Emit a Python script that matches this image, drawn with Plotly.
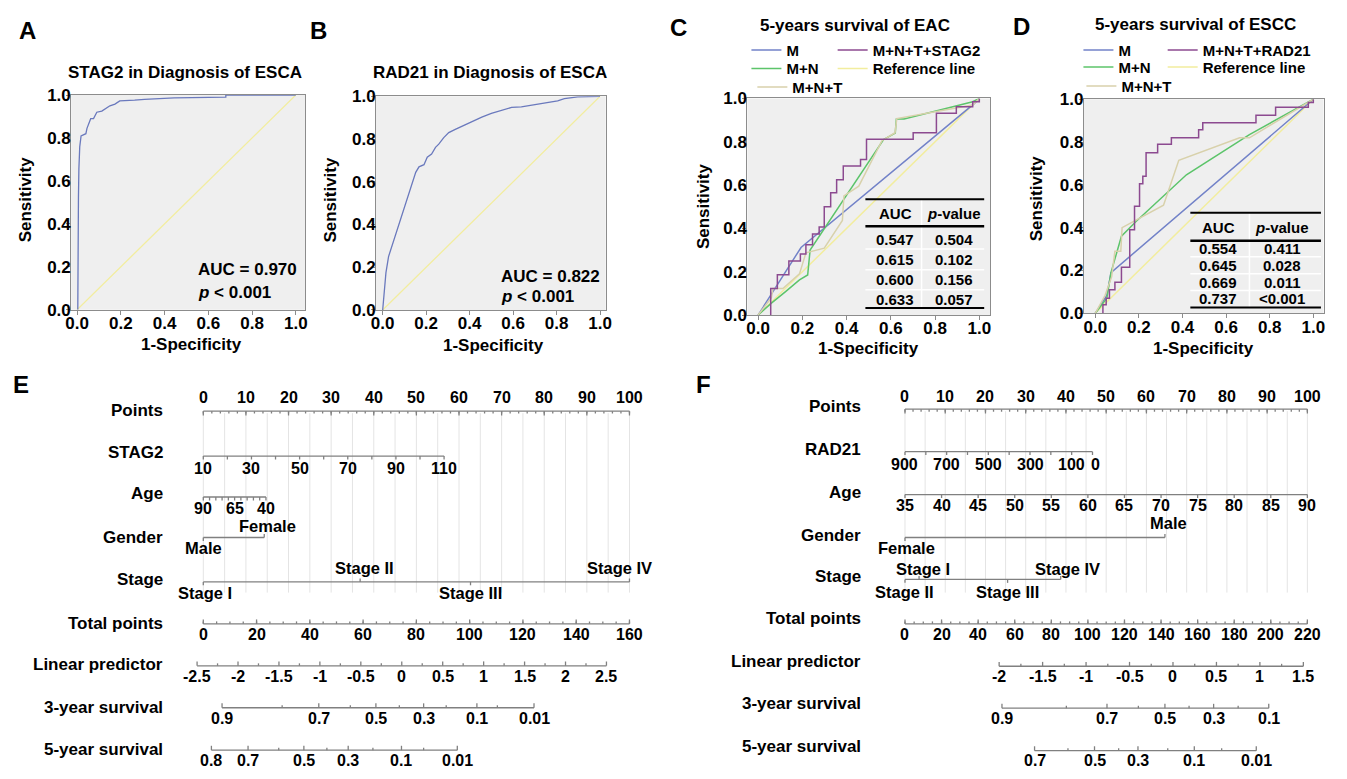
import plotly.graph_objects as go

W, H = 1347, 779
FONT = "Liberation Sans, Arial, Helvetica, sans-serif"
NUMFONT = "Liberation Sans, Arial, Helvetica, sans-serif"

# ======================= DATA =======================
a_fpr = [0.003, 0.003, 0.006, 0.008, 0.012, 0.018, 0.028, 0.040, 0.045, 0.056, 0.062, 0.075,
         0.083, 0.090, 0.113, 0.128, 0.150, 0.173, 0.195, 0.263, 0.308, 0.444, 0.680, 0.680, 1.0]
a_tpr = [0.0, 0.445, 0.52, 0.656, 0.76, 0.81, 0.815, 0.82, 0.845, 0.88, 0.89, 0.89,
         0.905, 0.92, 0.925, 0.935, 0.95, 0.958, 0.973, 0.976, 0.98, 0.987, 0.99, 1.0, 1.0]
a_auc, a_p = "0.970", "0.001"

b_fpr = [0, 0.008, 0.015, 0.027, 0.046, 0.061, 0.084, 0.106, 0.125, 0.140, 0.152, 0.167, 0.190,
         0.205, 0.225, 0.243, 0.258, 0.281, 0.304, 0.334, 0.365, 0.395, 0.426, 0.456, 0.500,
         0.547, 0.593, 0.638, 0.684, 0.745, 0.805, 0.836, 0.897, 1.0]
b_tpr = [0, 0.099, 0.175, 0.25, 0.31, 0.36, 0.43, 0.50, 0.556, 0.60, 0.644, 0.67, 0.68,
         0.715, 0.73, 0.761, 0.776, 0.807, 0.83, 0.845, 0.86, 0.875, 0.89, 0.903, 0.92,
         0.936, 0.948, 0.951, 0.959, 0.967, 0.979, 0.989, 0.997, 1.0]
b_auc, b_p = "0.822", "0.001"

c_m_fpr = [0, 0.194, 0.978, 1.0]
c_m_tpr = [0, 0.312, 0.977, 1.0]
c_mn_fpr = [0, 0.06, 0.12, 0.187, 0.224, 0.235, 0.567, 0.62, 0.625, 0.66, 0.97, 1.0]
c_mn_tpr = [0, 0.055, 0.105, 0.162, 0.185, 0.30, 0.81, 0.84, 0.905, 0.905, 0.985, 1.0]
c_mnt_fpr = [0, 0.06, 0.067, 0.112, 0.187, 0.216, 0.299, 0.381, 0.388, 0.455, 0.56, 0.619, 0.627, 0.806, 0.97, 1.0]
c_mnt_tpr = [0, 0.08, 0.122, 0.122, 0.19, 0.287, 0.309, 0.437, 0.55, 0.595, 0.805, 0.842, 0.907, 0.94, 0.97, 1.0]
c_full_fpr = [0.057, 0.087, 0.139, 0.191, 0.216, 0.246, 0.276, 0.299, 0.328, 0.355, 0.385, 0.463,
              0.49, 0.701, 0.806, 0.896, 0.97, 1.0, 1.0]
c_full_tpr = [0, 0.122, 0.186, 0.249, 0.282, 0.324, 0.374, 0.407, 0.50, 0.565, 0.625, 0.688,
              0.718, 0.812, 0.842, 0.932, 0.962, 0.985, 1.0]
c_auc = ["0.547", "0.615", "0.600", "0.633"]
c_pval = ["0.504", "0.102", "0.156", "0.057"]

d_m_fpr = [0, 0.053, 0.072, 1.0]
d_m_tpr = [0, 0.084, 0.19, 1.0]
d_mn_fpr = [0, 0.053, 0.072, 0.09, 0.12, 0.188, 0.418, 0.707, 1.0]
d_mn_tpr = [0, 0.07, 0.19, 0.25, 0.36, 0.43, 0.647, 0.835, 1.0]
d_mnt_fpr = [0, 0.045, 0.075, 0.09, 0.117, 0.123, 0.313, 0.383, 0.662, 0.707, 1.0]
d_mnt_tpr = [0, 0.084, 0.17, 0.29, 0.29, 0.40, 0.505, 0.715, 0.82, 0.82, 1.0]
d_full_fpr = [0.035, 0.05, 0.065, 0.09, 0.12, 0.158, 0.18, 0.203, 0.218, 0.233, 0.286, 0.349,
              0.474, 0.493, 0.737, 0.827, 0.977, 1.0, 1.0]
d_full_tpr = [0, 0.04, 0.07, 0.11, 0.145, 0.215, 0.39, 0.5, 0.605, 0.64, 0.75, 0.79,
              0.82, 0.857, 0.89, 0.925, 0.962, 0.985, 1.0]
d_auc = ["0.554", "0.645", "0.669", "0.737"]
d_pval = ["0.411", "0.028", "0.011", "<0.001"]

e_points_labels = [0, 10, 20, 30, 40, 50, 60, 70, 80, 90, 100]
e_stag2_labels = [10, 30, 50, 70, 90, 110]
e_stag2_vals = (10, 110)
e_stag2_pts = (0.0, 56.5)
e_age_labels = [90, 65, 40]
e_age_vals = (90, 40)
e_age_pts = (0.0, 14.7)
e_gender_names = ["Male", "Female"]
e_gender_pts = [0.0, 14.3]
e_stage_names = ["Stage I", "Stage II", "Stage III", "Stage IV"]
e_stage_pts = [0.0, 36.8, 62.7, 100.0]
e_total_labels = [0, 20, 40, 60, 80, 100, 120, 140, 160]
e_total_vals = (0, 160)
e_lp_labels = [-2.5, -2, -1.5, -1, -0.5, 0, 0.5, 1, 1.5, 2, 2.5]
e_lp_vals = (-2.5, 2.5)
e_lp_pts = (-1.46, 94.6)
e_s3_labels = ["0.9", "0.7", "0.5", "0.3", "0.1", "0.01"]
e_s3_pts = [4.4, 27.1, 40.5, 51.7, 64.2, 77.6]
e_s3_minor_vals = [0.8, 0.6, 0.4, 0.2, 0.05]
e_s3_minor_pts = [18.5, 34.5, 46.0, 57.0, 69.0]
e_s5_labels = ["0.8", "0.7", "0.5", "0.3", "0.1", "0.01"]
e_s5_pts = [1.9, 10.5, 23.6, 34.0, 46.5, 59.6]
e_s5_minor_vals = [0.6, 0.4, 0.2, 0.05]
e_s5_minor_pts = [17.7, 29.0, 39.8, 51.7]

f_points_labels = [0, 10, 20, 30, 40, 50, 60, 70, 80, 90, 100]
f_rad21_labels = [900, 700, 500, 300, 100, 0]
f_rad21_vals = (900, 0)
f_rad21_pts = (0.0, 46.6)
f_age_labels = [35, 40, 45, 50, 55, 60, 65, 70, 75, 80, 85, 90]
f_age_vals = (35, 90)
f_age_pts = (0.0, 100.0)
f_gender_names = ["Female", "Male"]
f_gender_pts = [0.0, 64.6]
f_stage_names = ["Stage II", "Stage I", "Stage III", "Stage IV"]
f_stage_pts = [0.0, 3.5, 25.5, 38.7]
f_total_labels = [0, 20, 40, 60, 80, 100, 120, 140, 160, 180, 200, 220]
f_total_vals = (0, 220)
f_lp_labels = [-2, -1.5, -1, -0.5, 0, 0.5, 1, 1.5]
f_lp_vals = (-2, 1.5)
f_lp_pts = (23.4, 99.0)
f_s3_labels = ["0.9", "0.7", "0.5", "0.3", "0.1"]
f_s3_pts = [24.1, 50.2, 64.6, 76.7, 90.4]
f_s3_minor_vals = [0.8, 0.6, 0.4, 0.2]
f_s3_minor_pts = [40.1, 58.0, 70.6, 82.8]
f_s5_labels = ["0.7", "0.5", "0.3", "0.1", "0.01"]
f_s5_pts = [32.2, 47.1, 57.9, 71.9, 87.3]
f_s5_minor_vals = [0.6, 0.4, 0.2, 0.05]
f_s5_minor_pts = [40.5, 53.1, 65.3, 78.7]

# ======================= STYLE =======================
ROC_BLUE = "#6a79bd"
BLUE = "#7282c8"
GREEN = "#5cc46a"
BEIGE = "#d8d1ab"
PURPLE = "#8c4a90"
YELLOW = "#f2ed9e"
PANEL_BG = "#efefef"
AXIS_GREY = "#8c8c8c"
NOMO_GREY = "#808080"
GRID = "#e4e4e4"

# the page shows the plot 8px in from the top-left corner of the photo;
# layout positions below are photo pixels, converted to plot pixels here
OFF = 8.0


def pxx(X):
    return (X - OFF) / W


def pxy(Y):
    return 1 - (Y - OFF) / H


fig = go.Figure()
annotations = []
shapes = []


def ann(text, x, y, xref="paper", yref="paper", size=17, family=FONT, xanchor="center",
        yanchor="middle", textangle=0, xshift=0, yshift=0):
    annotations.append(dict(text=text, x=x, y=y, xref=xref, yref=yref, showarrow=False,
                            xanchor=xanchor, yanchor=yanchor, textangle=textangle,
                            xshift=xshift, yshift=yshift,
                            font=dict(family=family, size=size, color="black")))


panels = [
    dict(n="", left=65.7, right=301.7, top=88.0, bottom=308.0, x0=71.7, x1=292.3),
    dict(n="2", left=373.3, right=605.0, top=89.3, bottom=308.3, x0=380.0, x1=599.3),
    dict(n="3", left=748.0, right=993.0, top=91.5, bottom=313.5, x0=758.8, x1=982.0),
    dict(n="4", left=1087.5, right=1329.3, top=92.3, bottom=311.7, x0=1099.0, x1=1319.0),
]
tickfont = dict(family=FONT, size=17, color="black", weight="bold")
for p in panels:
    n = p["n"]
    span = p["x1"] - p["x0"]
    fig.update_layout(**{
        "xaxis" + n: dict(domain=[pxx(p["left"]), pxx(p["right"])],
                          range=[(p["left"] - p["x0"]) / span, (p["right"] - p["x0"]) / span],
                          anchor="y" + n, showgrid=False, zeroline=False, showline=True,
                          mirror=True, linecolor=AXIS_GREY, linewidth=1, ticks="outside",
                          ticklen=4, tickcolor=AXIS_GREY, tick0=0, dtick=0.2,
                          tickformat=".1f", tickfont=tickfont, fixedrange=True,
                          ticklabelstandoff=-6),
        "yaxis" + n: dict(domain=[pxy(p["bottom"]), pxy(p["top"])], range=[0, 1],
                          anchor="x" + n, showgrid=False, zeroline=False, showline=True,
                          mirror=True, linecolor=AXIS_GREY, linewidth=1, ticks="outside",
                          ticklen=4, tickcolor=AXIS_GREY, tick0=0, dtick=0.2,
                          tickformat=".1f", tickfont=tickfont, fixedrange=True,
                          ticklabelstandoff=-8),
    })
    xr = "x" + n if n else "x"
    yr = "y" + n if n else "y"
    shapes.append(dict(type="rect", xref=xr + " domain", yref=yr + " domain", x0=0, x1=1,
                       y0=0, y1=1, fillcolor=PANEL_BG, line=dict(width=0), layer="below"))

diag = [0, 1]
fig.add_trace(go.Scatter(x=diag, y=diag, mode="lines", line=dict(color=YELLOW, width=1.3),
                         xaxis="x", yaxis="y", showlegend=False, hoverinfo="skip"))
fig.add_trace(go.Scatter(x=a_fpr, y=a_tpr, mode="lines", line=dict(color=ROC_BLUE, width=1.3),
                         xaxis="x", yaxis="y", showlegend=False, cliponaxis=False))
fig.add_trace(go.Scatter(x=diag, y=diag, mode="lines", line=dict(color=YELLOW, width=1.3),
                         xaxis="x2", yaxis="y2", showlegend=False, hoverinfo="skip"))
fig.add_trace(go.Scatter(x=b_fpr, y=b_tpr, mode="lines", line=dict(color=ROC_BLUE, width=1.3),
                         xaxis="x2", yaxis="y2", showlegend=False, cliponaxis=False))

for n, curves, legs in [
    ("3", [("Reference line", diag, diag, YELLOW, "linear"),
           ("M", c_m_fpr, c_m_tpr, BLUE, "linear"),
           ("M+N", c_mn_fpr, c_mn_tpr, GREEN, "linear"),
           ("M+N+T", c_mnt_fpr, c_mnt_tpr, BEIGE, "linear"),
           ("M+N+T+STAG2", c_full_fpr, c_full_tpr, PURPLE, "vh")],
     ["legend5", "legend", "legend2", "legend3", "legend4"]),
    ("4", [("Reference line", diag, diag, YELLOW, "linear"),
           ("M", d_m_fpr, d_m_tpr, BLUE, "linear"),
           ("M+N", d_mn_fpr, d_mn_tpr, GREEN, "linear"),
           ("M+N+T", d_mnt_fpr, d_mnt_tpr, BEIGE, "linear"),
           ("M+N+T+RAD21", d_full_fpr, d_full_tpr, PURPLE, "vh")],
     ["legend10", "legend6", "legend7", "legend8", "legend9"]),
]:
    for (name, xs, ys, col, shp), lg in zip(curves, legs):
        fig.add_trace(go.Scatter(x=xs, y=ys, mode="lines", name=name,
                                 line=dict(color=col, width=1.5, shape=shp),
                                 xaxis="x" + n, yaxis="y" + n, legend=lg, cliponaxis=False))

leg_pos = {
    "legend": (747, 42), "legend2": (747, 61), "legend3": (753, 80),
    "legend4": (834, 42), "legend5": (834, 61),
    "legend6": (1082, 42), "legend7": (1082, 59.5), "legend8": (1085, 79),
    "legend9": (1167, 42), "legend10": (1167, 59.5),
}
for k, (lx, ly) in leg_pos.items():
    fig.update_layout(**{k: dict(x=pxx(lx), y=pxy(ly), xanchor="left", yanchor="middle",
                                 bgcolor="rgba(0,0,0,0)", borderwidth=0, itemwidth=30,
                                 font=dict(family=FONT, size=15, color="black", weight="bold"),
                                 itemclick=False, itemdoubleclick=False)})

for t, x, y in [("STAG2 in Diagnosis of ESCA", 180.5, 65), ("RAD21 in Diagnosis of ESCA", 488, 65),
                ("5-years survival of EAC", 857, 17), ("5-years survival of ESCC", 1200, 16)]:
    ann("<b>%s</b>" % t, pxx(x), pxy(y), size=17)
for t, x, y in [("A", 21.7, 21.7), ("B", 315, 21.7), ("C", 678, 19), ("D", 1025, 18),
                ("E", 15, 385), ("F", 704, 385)]:
    ann("<b>%s</b>" % t, pxx(x), pxy(y), size=24)
for x, y in [(20, 195), (327, 195), (703, 202), (1040, 194)]:
    ann("<b>Sensitivity</b>", pxx(x), pxy(y), size=17, textangle=-90)
for x, y in [(186.7, 343.3), (491.7, 345), (870, 347.5), (1208, 347.5)]:
    ann("<b>1-Specificity</b>", pxx(x), pxy(y), size=17)

ann("<b>AUC = %s</b>" % a_auc, 0.545, 0.188, "x", "y", size=17, xanchor="left")
ann("<b><i>p</i> &lt; %s</b>" % a_p, 0.545, 0.078, "x", "y", size=17, xanchor="left")
ann("<b>AUC = %s</b>" % b_auc, 0.537, 0.157, "x2", "y2", size=17, xanchor="left")
ann("<b><i>p</i> &lt; %s</b>" % b_p, 0.537, 0.065, "x2", "y2", size=17, xanchor="left")


def table(n, x0, x1, xsep, top, head_y, head_line, row_ys, seps, bottom, col1, col2, aucs, pvs):
    xr, yr = "x" + n, "y" + n
    for s in seps:
        shapes.append(dict(type="line", xref=xr, yref=yr, x0=x0, x1=x1, y0=s, y1=s,
                           line=dict(color="white", width=1.5)))
    shapes.append(dict(type="line", xref=xr, yref=yr, x0=xsep, x1=xsep, y0=bottom, y1=top,
                       line=dict(color="white", width=1.5)))
    for yy, w in [(top, 2), (head_line, 2.4), (bottom, 2)]:
        shapes.append(dict(type="line", xref=xr, yref=yr, x0=x0, x1=x1, y0=yy, y1=yy,
                           line=dict(color="black", width=w)))
    ann("<b>AUC</b>", col1, head_y, xr, yr, size=15)
    ann("<b><i>p</i>-value</b>", col2, head_y, xr, yr, size=15)
    for a, pv, yy in zip(aucs, pvs, row_ys):
        ann("<b>%s</b>" % a, col1, yy, xr, yr, size=15)
        ann("<b>%s</b>" % pv.replace("<", "&lt;"), col2, yy, xr, yr, size=15)


table("3", 0.485, 1.022, 0.739, 0.535, 0.467, 0.41, [0.351, 0.257, 0.162, 0.074],
      [0.305, 0.209, 0.117], 0.032, 0.619, 0.885, c_auc, c_pval)
table("4", 0.436, 1.035, 0.707, 0.47, 0.40, 0.339, [0.302, 0.224, 0.144, 0.069],
      [0.264, 0.185, 0.107], 0.027, 0.564, 0.857, d_auc, d_pval)

# ---------------- Nomograms ----------------
NY0 = 340.0  # plot px of the top of the nomogram area
fig.update_layout(
    xaxis5=dict(domain=[0, 0.5], range=[(OFF - 199) / 4.3, (0.5 * W + OFF - 199) / 4.3],
                visible=False, anchor="y5", fixedrange=True),
    yaxis5=dict(domain=[0, (H - NY0) / H], range=[H + OFF, NY0 + OFF], visible=False,
                anchor="x5", fixedrange=True),
    xaxis6=dict(domain=[0.5, 1], range=[(0.5 * W + OFF - 907) / 4.06, (W + OFF - 907) / 4.06],
                visible=False, anchor="y6", fixedrange=True),
    yaxis6=dict(domain=[0, (H - NY0) / H], range=[H + OFF, NY0 + OFF], visible=False,
                anchor="x6", fixedrange=True),
)


def lin(v, vals, pts):
    return pts[0] + (v - vals[0]) * (pts[1] - pts[0]) / (vals[1] - vals[0])


def frange(a, b, step):
    out, v = [], a
    while (step > 0 and v <= b + 1e-9) or (step < 0 and v >= b - 1e-9):
        out.append(round(v, 6))
        v += step
    return out


def fmt(v):
    return ("%g" % v)


class Nomo:
    def __init__(self, xr, yr, label_x):
        self.xr, self.yr, self.label_x = xr, yr, label_x
        self.lx, self.ly, self.gx, self.gy = [], [], [], []

    def seg(self, x0, y0, x1, y1):
        self.lx += [x0, x1, None]
        self.ly += [y0, y1, None]

    def row(self, p0, p1, y, major, minor, d, mlen=4.5, nlen=2.5):
        self.seg(p0, y, p1, y)
        for p in major:
            self.seg(p, y, p, y + d * mlen)
        for p in minor:
            self.seg(p, y, p, y + d * nlen)

    def text(self, t, p, y, size=16, family=NUMFONT, xshift=0):
        ann("<b>%s</b>" % t, p, y, self.xr, self.yr, size=size, family=family, xshift=xshift)

    def label(self, t, y):
        ann("<b>%s</b>" % t, self.label_x, y, self.xr, self.yr, size=17, xanchor="right")

    def grid(self, y0, y1):
        for p in frange(0, 100, 5):
            self.gx += [p, p, None]
            self.gy += [y0, y1, None]

    def flush(self):
        fig.add_trace(go.Scatter(x=self.gx, y=self.gy, mode="lines",
                                 line=dict(color=GRID, width=1), xaxis=self.xr, yaxis=self.yr,
                                 showlegend=False, hoverinfo="skip", cliponaxis=False))
        fig.add_trace(go.Scatter(x=self.lx, y=self.ly, mode="lines",
                                 line=dict(color=NOMO_GREY, width=1.3), xaxis=self.xr,
                                 yaxis=self.yr, showlegend=False, hoverinfo="skip",
                                 cliponaxis=False))


E = Nomo("x5", "y5", (160 - 199) / 4.3)
E.grid(414, 598)
E.row(0, 100, 412, e_points_labels, frange(0, 100, 2), +1)
for v in e_points_labels:
    E.text(fmt(v), v, 398)
E.row(lin(e_stag2_vals[0], e_stag2_vals, e_stag2_pts), lin(e_stag2_vals[1], e_stag2_vals, e_stag2_pts),
      458, [lin(v, e_stag2_vals, e_stag2_pts) for v in frange(10, 110, 10)], [], +1, mlen=3.5)
for v in e_stag2_labels:
    E.text(fmt(v), lin(v, e_stag2_vals, e_stag2_pts), 470.5)
E.row(e_age_pts[0], e_age_pts[1], 500, [lin(v, e_age_vals, e_age_pts) for v in frange(90, 40, -5)],
      [], +1, mlen=3.5)
for v in e_age_labels:
    E.text(fmt(v), lin(v, e_age_vals, e_age_pts), 511.5)
E.row(e_gender_pts[0], e_gender_pts[1], 541.5, [], [], +1)
E.seg(e_gender_pts[1], 541.5, e_gender_pts[1], 538)
E.seg(e_gender_pts[0], 541.5, e_gender_pts[0], 545)
E.text(e_gender_names[1], e_gender_pts[1], 530, size=16.5, family=FONT, xshift=3)
E.text(e_gender_names[0], e_gender_pts[0], 552.5, size=16.5, family=FONT)
E.row(e_stage_pts[0], e_stage_pts[-1], 587, [], [], +1)
for nm, p, up, xs in zip(e_stage_names, e_stage_pts, [False, True, False, True], [2, 4, 0, -10]):
    E.seg(p, 587, p, 587 + (-3.5 if up else 3.5))
    E.text(nm, p, 573 if up else 598, size=16.5, family=FONT, xshift=xs)
E.row(0, 100, 630, [lin(v, e_total_vals, (0, 100)) for v in e_total_labels],
      [lin(v, e_total_vals, (0, 100)) for v in frange(0, 160, 5)], -1)
for v in e_total_labels:
    E.text(fmt(v), lin(v, e_total_vals, (0, 100)), 640.5)
E.row(e_lp_pts[0], e_lp_pts[1], 673, [lin(v, e_lp_vals, e_lp_pts) for v in e_lp_labels],
      [lin(v, e_lp_vals, e_lp_pts) for v in frange(-2.25, 2.25, 0.5)], -1)
for v in e_lp_labels:
    E.text(fmt(v), lin(v, e_lp_vals, e_lp_pts), 684.5)
E.row(e_s3_pts[0], e_s3_pts[-1], 716, e_s3_pts, e_s3_minor_pts, -1)
for t, p in zip(e_s3_labels, e_s3_pts):
    E.text(t, p, 727)
E.row(e_s5_pts[0], e_s5_pts[-1], 759.5, e_s5_pts, e_s5_minor_pts, -1)
for t, p in zip(e_s5_labels, e_s5_pts):
    E.text(t, p, 770)
for t, y in [("Points", 411), ("STAG2", 454), ("Age", 496), ("Gender", 542), ("Stage", 585),
             ("Total points", 629.5), ("Linear predictor", 672), ("3-year survival", 715.5),
             ("5-year survival", 759)]:
    E.label(t, y)
E.flush()

F = Nomo("x6", "y6", (865 - 907) / 4.06)
F.grid(412, 598)
F.row(0, 100, 410, f_points_labels, frange(0, 100, 2), +1)
for v in f_points_labels:
    F.text(fmt(v), v, 397.5)
F.row(f_rad21_pts[0], f_rad21_pts[1], 453.5,
      [lin(v, f_rad21_vals, f_rad21_pts) for v in frange(900, 0, -100)], [], +1, mlen=3.5)
for v in f_rad21_labels:
    F.text(fmt(v), lin(v, f_rad21_vals, f_rad21_pts), 466.5, xshift=(3 if v == 0 else 0))
F.row(f_age_pts[0], f_age_pts[1], 497.5, [lin(v, f_age_vals, f_age_pts) for v in f_age_labels],
      [], +1, mlen=3.5)
for v in f_age_labels:
    F.text(fmt(v), lin(v, f_age_vals, f_age_pts), 508.5)
F.row(f_gender_pts[0], f_gender_pts[1], 541.5, [], [], +1)
F.seg(f_gender_pts[1], 541.5, f_gender_pts[1], 538)
F.seg(f_gender_pts[0], 541.5, f_gender_pts[0], 545)
F.text(f_gender_names[1], f_gender_pts[1], 527, size=16.5, family=FONT, xshift=4)
F.text(f_gender_names[0], f_gender_pts[0], 552, size=16.5, family=FONT, xshift=2)
F.row(0, max(f_stage_pts), 584.5, [], [], +1)
for nm, p, up, xs in zip(f_stage_names, f_stage_pts, [False, True, False, True], [0, 4, 0, 7]):
    F.seg(p, 584.5, p, 584.5 + (-3.5 if up else 3.5))
    F.text(nm, p, 573.5 if up else 597.5, size=16.5, family=FONT, xshift=xs)
F.row(0, 100, 630, [lin(v, f_total_vals, (0, 100)) for v in f_total_labels],
      [lin(v, f_total_vals, (0, 100)) for v in frange(0, 220, 5)], -1)
for v in f_total_labels:
    F.text(fmt(v), lin(v, f_total_vals, (0, 100)), 640.5)
F.row(f_lp_pts[0], f_lp_pts[1], 673.5, [lin(v, f_lp_vals, f_lp_pts) for v in f_lp_labels],
      [lin(v, f_lp_vals, f_lp_pts) for v in frange(-1.75, 1.25, 0.5)], -1)
for v in f_lp_labels:
    F.text(fmt(v), lin(v, f_lp_vals, f_lp_pts), 684.5)
F.row(f_s3_pts[0], f_s3_pts[-1], 716.5, f_s3_pts, f_s3_minor_pts, -1)
for t, p in zip(f_s3_labels, f_s3_pts):
    F.text(t, p, 727)
F.row(f_s5_pts[0], f_s5_pts[-1], 760, f_s5_pts, f_s5_minor_pts, -1)
for t, p in zip(f_s5_labels, f_s5_pts):
    F.text(t, p, 770.5)
for t, y in [("Points", 407), ("RAD21", 451.5), ("Age", 495), ("Gender", 539), ("Stage", 581.5),
             ("Total points", 625), ("Linear predictor", 668.5), ("3-year survival", 712),
             ("5-year survival", 755.5)]:
    F.label(t, y)
F.flush()

fig.update_layout(width=W, height=H, margin=dict(l=0, r=0, t=0, b=0),
                  paper_bgcolor="white", plot_bgcolor="rgba(0,0,0,0)",
                  annotations=annotations, shapes=shapes, hovermode=False,
                  font=dict(family=FONT, color="black"))

fig.write_html("out.html", config={"displayModeBar": False})
